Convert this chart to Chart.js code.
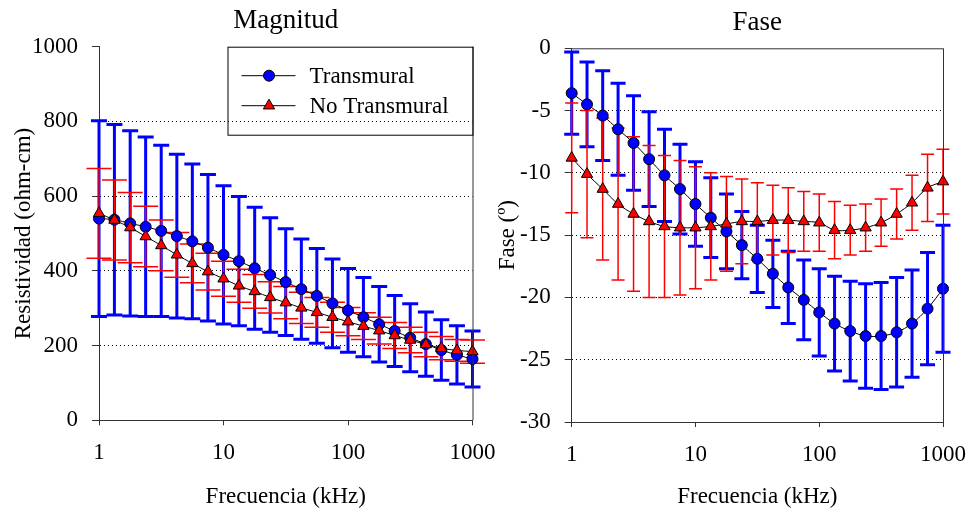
<!DOCTYPE html>
<html>
<head>
<meta charset="utf-8">
<script src="https://cdn.jsdelivr.net/npm/chart.js@4.4.0/dist/chart.umd.min.js"></script>
<style>
  html, body { margin: 0; padding: 0; background: #fff; }
  #wrap { position: relative; width: 980px; height: 514px; overflow: hidden; }
  #magWrap { position: absolute; left: 0; top: 0; width: 520px; height: 514px; }
  #phaseWrap { position: absolute; left: 490px; top: 0; width: 490px; height: 514px; }
</style>
</head>
<body>
<div id="wrap">
  <div id="phaseWrap"><canvas id="phaseChart" width="490" height="514"></canvas></div>
  <div id="magWrap"><canvas id="magChart" width="520" height="514"></canvas></div>
</div>
<script>
// Frecuencias (kHz), 8 puntos por década
const frecuencias = [1, 1.33, 1.78, 2.37, 3.16, 4.22, 5.62, 7.5, 10, 13.3, 17.8, 23.7, 31.6, 42.2, 56.2, 75, 100, 133, 178, 237, 316, 422, 562, 750, 1000];
const xTicks = [1, 10, 100, 1000];

// Magnitud: resistividad (ohm-cm), media y desviación
const magTransmural = [540, 537, 527, 518, 507, 493, 479, 462, 443, 426, 407, 389, 370, 351, 333, 313, 294, 276, 257, 239, 221, 204, 188, 175, 164];
const magTransmuralDE = [262, 255, 248, 240, 229, 219, 207, 196, 185, 173, 163, 153, 143, 134, 127, 119, 112, 106, 101, 95, 91, 86, 81, 78, 75];
const magNoTransmural = [554, 536, 516, 492, 468, 443, 420, 398, 379, 360, 345, 329, 315, 301, 289, 276, 264, 252, 240, 227, 215, 203, 193, 187, 184];
const magNoTransmuralDE = [120, 107, 94, 81, 68, 60, 52, 49, 47, 44, 45, 42, 43, 42, 40, 40, 38, 36, 36, 35, 34, 33, 31, 29, 31];
const magTicks = [0, 200, 400, 600, 800, 1000];

// Fase (grados), media y desviación
const faseTransmural = [-3.6, -4.5, -5.4, -6.5, -7.6, -8.9, -10.2, -11.3, -12.5, -13.6, -14.7, -15.8, -16.9, -18.1, -19.2, -20.2, -21.2, -22.1, -22.7, -23.1, -23.1, -22.8, -22.1, -20.9, -19.3];
const faseTransmuralDE = [3.3, 3.4, 3.6, 3.7, 3.8, 3.8, 3.7, 3.6, 3.4, 3.2, 3.0, 2.7, 2.7, 2.7, 2.9, 3.2, 3.5, 3.8, 4.0, 4.2, 4.3, 4.4, 4.3, 4.5, 5.1];
const faseNoTransmural = [-8.8, -10.1, -11.3, -12.5, -13.3, -13.9, -14.3, -14.4, -14.4, -14.3, -14.1, -13.9, -13.9, -13.8, -13.8, -13.9, -14.0, -14.6, -14.6, -14.4, -14.0, -13.3, -12.4, -11.2, -10.7];
const faseNoTransmuralDE = [4.4, 5.1, 5.7, 6.1, 6.2, 6.1, 5.7, 5.4, 4.9, 4.3, 3.8, 3.4, 3.1, 2.8, 2.6, 2.4, 2.3, 2.3, 2.0, 1.9, 1.9, 2.0, 2.2, 2.7, 2.6];
const faseTicks = [0, -5, -10, -15, -20, -25, -30];

const AZUL = '#0000FF';
const ROJO = '#FF0000';
const EJE = '#333333';
const FUENTE = '"Liberation Serif", "Times New Roman", serif';

Chart.defaults.font.family = FUENTE;
Chart.defaults.color = '#000';

const puntos = (ys) => ys.map((y, i) => ({ x: frecuencias[i], y: y }));

// barras de error (media +/- desviación), dibujadas antes de las series
const barrasError = {
  id: 'barrasError',
  beforeDatasetsDraw(chart) {
    const { ctx, scales: { x, y } } = chart;
    chart.data.datasets.forEach(ds => {
      if (!ds.errores) return;
      ctx.save();
      ctx.strokeStyle = ds.colorError;
      ctx.lineWidth = ds.anchoError;
      const c = ds.capError / 2;
      ds.data.forEach((p, j) => {
        const px = x.getPixelForValue(p.x);
        const yA = y.getPixelForValue(p.y + ds.errores[j]);
        const yB = y.getPixelForValue(p.y - ds.errores[j]);
        ctx.beginPath();
        ctx.moveTo(px, yA); ctx.lineTo(px, yB);
        ctx.moveTo(px - c, yA); ctx.lineTo(px + c, yA);
        ctx.moveTo(px - c, yB); ctx.lineTo(px + c, yB);
        ctx.stroke();
      });
      ctx.restore();
    });
  }
};

// bordes del área (derecho, y superior en la fase)
const marco = {
  id: 'marco',
  afterDraw(chart, args, o) {
    const { ctx, chartArea: a } = chart;
    ctx.save();
    ctx.strokeStyle = EJE;
    ctx.lineWidth = 1;
    ctx.beginPath();
    if (o.top) { ctx.moveTo(a.left, a.top + 0.5); ctx.lineTo(a.right, a.top + 0.5); }
    ctx.moveTo(a.right + 0.5, a.top); ctx.lineTo(a.right + 0.5, a.bottom);
    ctx.stroke();
    ctx.restore();
  }
};

// leyenda con caja dentro del área del gráfico
const leyendaCaja = {
  id: 'leyendaCaja',
  afterDraw(chart, args, o) {
    if (!o.display) return;
    const { ctx, chartArea: a } = chart;
    const x0 = a.right - o.w, y0 = a.top;
    ctx.save();
    ctx.strokeStyle = '#000';
    ctx.lineWidth = 1;
    ctx.strokeRect(x0 + 0.5, y0 + 0.5, o.w, o.h);
    ctx.font = '23px ' + FUENTE;
    ctx.textBaseline = 'middle';
    ctx.textAlign = 'left';
    o.orden.forEach((idx, k) => {
      const ds = chart.data.datasets[idx];
      const yy = y0 + 29 + k * 30;
      ctx.strokeStyle = '#000';
      ctx.lineWidth = 1;
      ctx.beginPath();
      ctx.moveTo(x0 + 14, yy); ctx.lineTo(x0 + 68, yy);
      ctx.stroke();
      ctx.fillStyle = ds.pointBackgroundColor;
      Chart.helpers.drawPoint(ctx, { pointStyle: ds.pointStyle, radius: ds.pointRadius, rotation: 0, borderWidth: 1 }, x0 + 41.5, yy);
      ctx.fillStyle = '#000';
      ctx.fillText(ds.label, x0 + 82, yy + 1);
    });
    ctx.restore();
  }
};

function serie(label, ys, de, color, estilo, radio, cap, ancho, orden) {
  return {
    label: label,
    data: puntos(ys),
    errores: de,
    colorError: color,
    capError: cap,
    anchoError: ancho,
    borderColor: '#000',
    borderWidth: 1,
    pointBackgroundColor: color,
    pointBorderColor: '#000',
    pointBorderWidth: 1,
    pointStyle: estilo,
    pointRadius: radio,
    pointHoverRadius: radio,
    tension: 0.3,
    fill: false,
    clip: false,
    order: orden
  };
}

function opciones(cfg) {
  return {
    responsive: false,
    animation: false,
    layout: { padding: { left: 0, right: cfg.padDer, top: 0, bottom: 0 } },
    scales: {
      x: {
        type: 'logarithmic',
        min: 1,
        max: 1000,
        afterFit: s => { s.height = cfg.altoX; },
        afterBuildTicks: s => { s.ticks = xTicks.map(v => ({ value: v })); },
        ticks: { callback: v => String(v), font: { size: 23 }, padding: 14, maxRotation: 0, autoSkip: false },
        grid: { drawOnChartArea: false, tickLength: 5, tickColor: EJE, tickBorderDash: [] },
        border: { color: EJE, width: 1 },
        title: { display: true, text: 'Frecuencia (kHz)', font: { size: 23 }, padding: { top: 0, bottom: 3 } }
      },
      y: {
        min: cfg.yMin,
        max: cfg.yMax,
        afterFit: s => { s.width = cfg.anchoY; },
        afterBuildTicks: s => { s.ticks = cfg.yTicks.map(v => ({ value: v })); },
        ticks: { callback: v => String(v), font: { size: 23 }, padding: 14 },
        grid: {
          color: c => (c.tick && (c.tick.value === cfg.yMin || c.tick.value === cfg.yMax)) ? 'rgba(0,0,0,0)' : '#000',
          lineWidth: 1,
          tickLength: 7,
          tickColor: EJE,
          tickBorderDash: []
        },
        border: { color: EJE, width: 1, dash: [1, 3] },
        title: { display: true, text: cfg.tituloY, font: { size: 23 }, padding: { top: cfg.padTituloY, bottom: 0 } }
      }
    },
    plugins: {
      legend: { display: false },
      tooltip: { enabled: false },
      title: {
        display: true,
        text: cfg.titulo,
        fullSize: false,
        color: '#000',
        font: { size: 27, weight: 'normal' },
        padding: { top: cfg.padTitulo[0], bottom: cfg.padTitulo[1] }
      },
      marco: { top: cfg.marcoSup },
      leyendaCaja: { display: cfg.leyenda, w: 245, h: 88, orden: [0, 1] }
    }
  };
}

// Magnitud
new Chart(document.getElementById('magChart').getContext('2d'), {
  type: 'line',
  data: {
    datasets: [
      serie('Transmural', magTransmural, magTransmuralDE, AZUL, 'circle', 5.5, 16, 3, 1),
      serie('No Transmural', magNoTransmural, magNoTransmuralDE, ROJO, 'triangle', 6.5, 25, 1.5, 0)
    ]
  },
  options: opciones({
    titulo: 'Magnitud', tituloY: 'Resistividad (ohm-cm)',
    yMin: 0, yMax: 1000, yTicks: magTicks,
    padDer: 47.5, altoX: 93.7, anchoY: 99, padTituloY: 10,
    padTitulo: [4.3, 10], marcoSup: false, leyenda: true
  }),
  plugins: [barrasError, marco, leyendaCaja]
});

// Fase
new Chart(document.getElementById('phaseChart').getContext('2d'), {
  type: 'line',
  data: {
    datasets: [
      serie('Transmural', faseTransmural, faseTransmuralDE, AZUL, 'circle', 5.5, 15, 3, 1),
      serie('No Transmural', faseNoTransmural, faseNoTransmuralDE, ROJO, 'triangle', 6.5, 13, 1.5, 0)
    ]
  },
  options: opciones({
    titulo: 'Fase', tituloY: 'Fase (º)',
    yMin: -30, yMax: 0, yTicks: faseTicks,
    padDer: 34.7, altoX: 92, anchoY: 81.7, padTituloY: 4,
    padTitulo: [7, 8.9], marcoSup: true, leyenda: false
  }),
  plugins: [barrasError, marco, leyendaCaja]
});
</script>
</body>
</html>
